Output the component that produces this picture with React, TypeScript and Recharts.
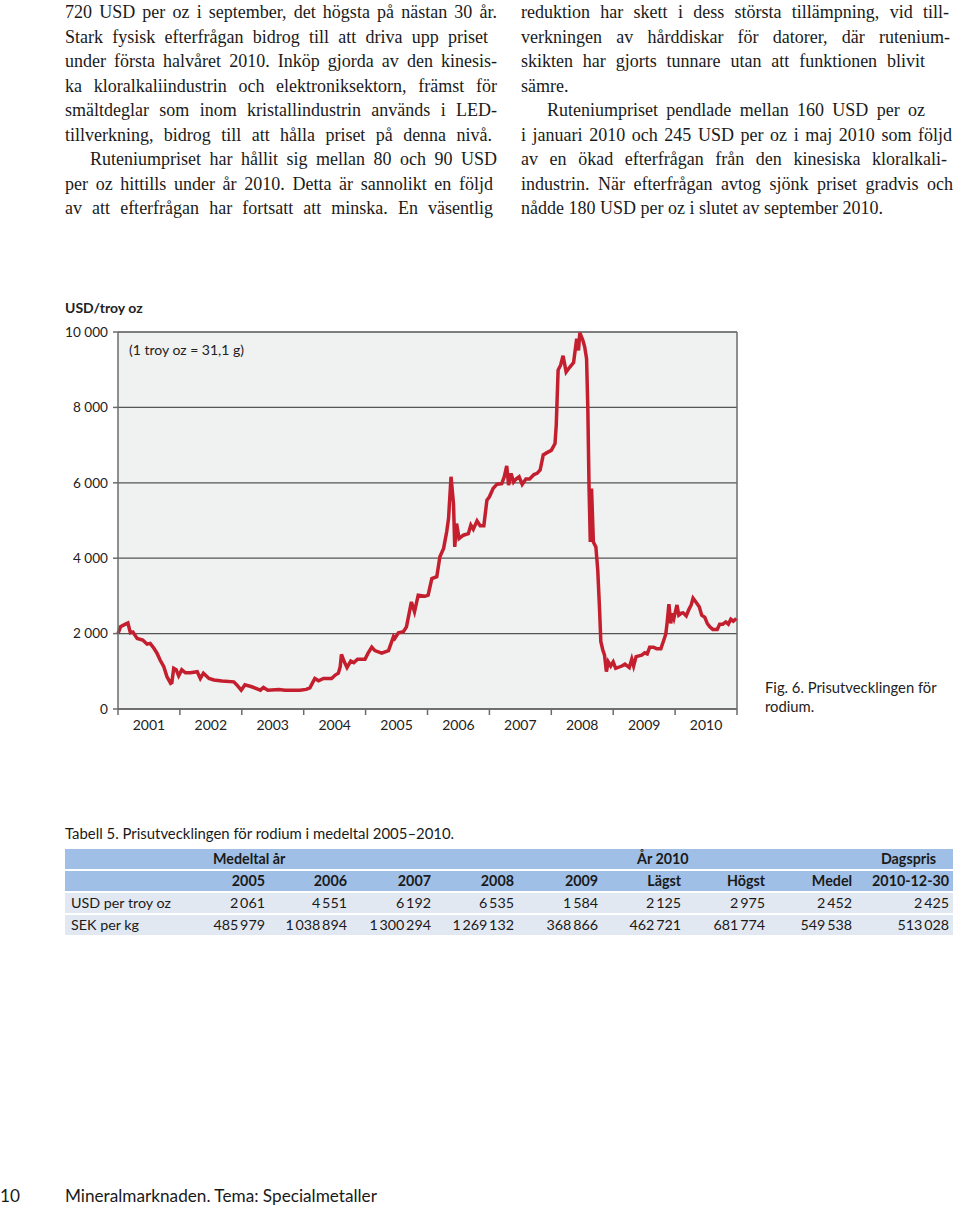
import React from 'react';
import { LineChart, Line, XAxis, YAxis, CartesianGrid, ReferenceLine } from 'recharts';

// Rhodium price, USD per troy oz (fractional years)
const times = [
  2001.0, 2001.04, 2001.12, 2001.16, 2001.2, 2001.24, 2001.31, 2001.4, 2001.47, 2001.52,
  2001.58, 2001.63, 2001.68, 2001.74, 2001.79, 2001.85, 2001.87, 2001.9, 2001.94, 2001.98,
  2002.03, 2002.09, 2002.17, 2002.28, 2002.33, 2002.38, 2002.47, 2002.55, 2002.68, 2002.87,
  2002.92, 2002.99, 2003.05, 2003.16, 2003.3, 2003.35, 2003.42, 2003.6, 2003.7, 2003.94,
  2004.04, 2004.1, 2004.18, 2004.24, 2004.32, 2004.45, 2004.51, 2004.56, 2004.59, 2004.61,
  2004.65, 2004.7, 2004.76, 2004.81, 2004.87, 2004.99, 2005.04, 2005.1, 2005.15, 2005.26,
  2005.37, 2005.45, 2005.47, 2005.53, 2005.61, 2005.66, 2005.74, 2005.79, 2005.85, 2005.96,
  2006.01, 2006.07, 2006.15, 2006.2, 2006.26, 2006.31, 2006.34, 2006.38, 2006.42, 2006.44,
  2006.47, 2006.51, 2006.58, 2006.66, 2006.7, 2006.74, 2006.8, 2006.85, 2006.91, 2006.96,
  2007.0, 2007.06, 2007.12, 2007.2, 2007.24, 2007.28, 2007.31, 2007.35, 2007.39, 2007.43,
  2007.48, 2007.53, 2007.59, 2007.65, 2007.72, 2007.77, 2007.82, 2007.87, 2007.93, 2008.0,
  2008.06, 2008.08, 2008.11, 2008.15, 2008.19, 2008.24, 2008.3, 2008.36, 2008.41, 2008.44,
  2008.46, 2008.51, 2008.54, 2008.57, 2008.59, 2008.61, 2008.63, 2008.65, 2008.68, 2008.72,
  2008.75, 2008.78, 2008.8, 2008.83, 2008.86, 2008.89, 2008.92, 2008.96, 2009.0, 2009.04,
  2009.14, 2009.19, 2009.26, 2009.3, 2009.33, 2009.37, 2009.46, 2009.51, 2009.55, 2009.59,
  2009.65, 2009.7, 2009.77, 2009.81, 2009.85, 2009.87, 2009.9, 2009.93, 2009.95, 2009.98,
  2010.03, 2010.06, 2010.1, 2010.13, 2010.18, 2010.22, 2010.26, 2010.29, 2010.33, 2010.39,
  2010.43, 2010.48, 2010.52, 2010.56, 2010.61, 2010.68, 2010.72, 2010.77, 2010.82, 2010.86,
  2010.9, 2010.94, 2010.99,
];
const prices = [
  2000, 2180, 2250, 2280, 2020, 2040, 1870, 1830, 1720, 1740,
  1610, 1480, 1300, 1120, 860, 680, 700, 1080, 1040, 880,
  1040, 960, 960, 990, 810, 950, 810, 770, 740, 720,
  640, 500, 640, 590, 500, 570, 500, 520, 500, 500,
  520, 560, 810, 750, 810, 810, 900, 950, 1120, 1450,
  1270, 1100, 1270, 1230, 1320, 1320, 1480, 1640, 1550, 1480,
  1550, 1920, 1870, 2020, 2050, 2180, 2840, 2580, 3020, 2990,
  3020, 3460, 3510, 4040, 4260, 4700, 5050, 6160, 5450, 4300,
  4920, 4520, 4610, 4650, 4880, 4770, 4990, 4860, 4860, 5540,
  5630, 5850, 5960, 5980, 6160, 6450, 5940, 6250, 6020, 6100,
  6160, 5960, 6100, 6100, 6220, 6250, 6340, 6740, 6800, 6860,
  7040, 7530, 8990, 9120, 9370, 8940, 9070, 9190, 9820, 9510,
  9980, 9780, 9600, 9290, 7970, 5850, 4430, 5850, 4430, 4300,
  3700, 2630, 1790, 1580, 1430, 990, 1250, 1140, 1250, 1080,
  1140, 1190, 1100, 1320, 1140, 1390, 1430, 1490, 1460, 1640,
  1640, 1600, 1600, 1790, 1990, 2270, 2780, 2270, 2540, 2400,
  2760, 2490, 2540, 2550, 2470, 2630, 2760, 2940, 2850, 2710,
  2490, 2430, 2270, 2180, 2110, 2110, 2250, 2250, 2310, 2250,
  2380, 2330, 2400,
];
const yearTicks = [2001, 2002, 2003, 2004, 2005, 2006, 2007, 2008, 2009, 2010, 2011];
const priceTicks = [0, 2000, 4000, 6000, 8000, 10000];

// Table 5
const avgYears = ['2005', '2006', '2007', '2008', '2009'];
const year2010Cols = ['Lägst', 'Högst', 'Medel'];
const dayCol = '2010-12-30';
const usdRow = [2061, 4551, 6192, 6535, 1584, 2125, 2975, 2452, 2425];
const sekRow = [485979, 1038894, 1300294, 1269132, 368866, 462721, 681774, 549538, 513028];

// Body text, line by line as printed
const leftLines = [
  '720 USD per oz i september, det högsta på nästan 30 år.',
  'Stark fysisk efterfrågan bidrog till att driva upp priset',
  'under första halvåret 2010. Inköp gjorda av den kinesis-',
  'ka kloralkaliindustrin och elektroniksektorn, främst för',
  'smältdeglar som inom kristallindustrin används i LED-',
  'tillverkning, bidrog till att hålla priset på denna nivå.',
  'Ruteniumpriset har hållit sig mellan 80 och 90 USD',
  'per oz hittills under år 2010. Detta är sannolikt en följd',
  'av att efterfrågan har fortsatt att minska. En väsentlig',
];
const leftEnds = [497, 488, 497, 497, 497, 492, 497, 493, 493];
const leftIndent = [0, 0, 0, 0, 0, 0, 25, 0, 0];

const rightLines = [
  'reduktion har skett i dess största tillämpning, vid till-',
  'verkningen av hårddiskar för datorer, där rutenium-',
  'skikten har gjorts tunnare utan att funktionen blivit',
  'sämre.',
  'Ruteniumpriset pendlade mellan 160 USD per oz',
  'i januari 2010 och 245 USD per oz i maj 2010 som följd',
  'av en ökad efterfrågan från den kinesiska kloralkali-',
  'industrin. När efterfrågan avtog sjönk priset gradvis och',
  'nådde 180 USD per oz i slutet av september 2010.',
];
const rightEnds = [949, 950, 925, 0, 925, 952, 947, 953, 0];
const rightIndent = [0, 0, 0, 0, 26, 0, 0, 0, 0];

const chartData = times.map((t, i) => ({ t, usd: prices[i] }));

const SANS = 'Lato, "Open Sans", sans-serif';
const SERIF = '"Liberation Serif", serif';
const AXIS = '#6b6b6b';
const LINE_RED = '#c41f2e';
const HEAD_BLUE = '#a0bfe6';
const ROW_BLUE = '#e2e8f2';

const spaced = (n: number, sep: string) => String(n).replace(/\B(?=(\d{3})+(?!\d))/g, sep);

const YearTick = (props: any) => {
  const { x, y, payload, width } = props;
  const half = (typeof width === 'number' && width > 0 ? width : 619) / (yearTicks.length - 1) / 2;
  if (payload.value >= 2011) return null;
  return (
    <text x={x + half} y={y} dy="0.71em" textAnchor="middle" fill="#222" fontSize={14} fontFamily={SANS}>
      {payload.value}
    </text>
  );
};

const TextColumn = ({ lines, ends, indents, left }: { lines: string[]; ends: number[]; indents: number[]; left: number }) => (
  <div style={{ position: 'absolute', left, top: 0, fontFamily: SERIF, fontSize: 18, color: '#1a1a1a' }}>
    {lines.map((ln, i) => {
      const just = ends[i] > 0;
      return (
        <div
          key={i}
          style={{
            height: 24.5,
            lineHeight: '24.5px',
            whiteSpace: just ? 'normal' : 'nowrap',
            paddingLeft: indents[i],
            width: just ? ends[i] - left - indents[i] : undefined,
            textAlign: just ? 'justify' : 'left',
            textAlignLast: just ? 'justify' : 'left',
          }}
        >
          {ln}
        </div>
      );
    })}
  </div>
);

const cell: React.CSSProperties = { padding: '0 4px 0 0', textAlign: 'right', height: 20, lineHeight: '20px' };

const PriceTable = () => (
  <table
    style={{
      position: 'absolute',
      left: 65,
      top: 847,
      width: 888,
      borderCollapse: 'separate',
      borderSpacing: '0 2px',
      fontFamily: SANS,
      fontSize: 14.3,
      color: '#1a1a1a',
      tableLayout: 'fixed',
    }}
  >
    <colgroup>
      <col style={{ width: 120 }} />
      <col style={{ width: 84 }} />
      <col style={{ width: 82 }} />
      <col style={{ width: 84 }} />
      <col style={{ width: 83 }} />
      <col style={{ width: 84 }} />
      <col style={{ width: 83 }} />
      <col style={{ width: 84 }} />
      <col style={{ width: 87 }} />
      <col style={{ width: 97 }} />
    </colgroup>
    <tbody>
      <tr style={{ background: HEAD_BLUE, fontWeight: 700 }}>
        <td style={cell}></td>
        <td colSpan={5} style={{ ...cell, textAlign: 'left', paddingLeft: 28 }}>Medeltal år</td>
        <td colSpan={3} style={{ ...cell, textAlign: 'left', paddingLeft: 35 }}>År 2010</td>
        <td style={{ ...cell, paddingRight: 17 }}>Dagspris</td>
      </tr>
      <tr style={{ background: HEAD_BLUE, fontWeight: 700 }}>
        <td style={cell}></td>
        {[...avgYears, ...year2010Cols, dayCol].map((h) => (
          <td key={h} style={cell}>{h}</td>
        ))}
      </tr>
      <tr style={{ background: ROW_BLUE }}>
        <td style={{ ...cell, textAlign: 'left', paddingLeft: 6 }}>USD per troy oz</td>
        {usdRow.map((v, i) => (
          <td key={i} style={cell}>{spaced(v, '\u2009')}</td>
        ))}
      </tr>
      <tr style={{ background: ROW_BLUE }}>
        <td style={{ ...cell, textAlign: 'left', paddingLeft: 6 }}>SEK per kg</td>
        {sekRow.map((v, i) => (
          <td key={i} style={cell}>{spaced(v, '\u2009')}</td>
        ))}
      </tr>
    </tbody>
  </table>
);

export default function App() {
  return (
    <div style={{ position: 'absolute', left: 0, top: 0, width: 960, height: 1208, background: '#fff', overflow: 'hidden' }}>
      <TextColumn lines={leftLines} ends={leftEnds} indents={leftIndent} left={65} />
      <TextColumn lines={rightLines} ends={rightEnds} indents={rightIndent} left={521} />

      <div style={{ position: 'absolute', left: 65, top: 299, fontFamily: SANS, fontSize: 14, fontWeight: 700, color: '#222' }}>
        USD/troy oz
      </div>

      <div style={{ position: 'absolute', left: 60, top: 290 }}>
        <LineChart width={700} height={460} data={chartData} margin={{ top: 42, right: 23, bottom: 0, left: 0 }}>
          <CartesianGrid vertical={false} stroke="#555" strokeWidth={1.3} fill="#f0f1f1" fillOpacity={1} />
          <XAxis
            dataKey="t"
            type="number"
            domain={[2001, 2011]}
            ticks={yearTicks}
            interval={0}
            height={41}
            axisLine={{ stroke: AXIS, strokeWidth: 1.5 }}
            tickLine={{ stroke: AXIS, strokeWidth: 1.5 }}
            tickSize={6}
            tickMargin={5}
            tick={<YearTick />}
          />
          <YAxis
            type="number"
            domain={[0, 10000]}
            ticks={priceTicks}
            interval={0}
            width={58}
            axisLine={{ stroke: AXIS, strokeWidth: 1.5 }}
            tickLine={{ stroke: AXIS, strokeWidth: 1.5 }}
            tickSize={5}
            tickMargin={5}
            tickFormatter={(v: number) => spaced(v, ' ')}
            tick={{ fill: '#222', fontSize: 13.6, fontFamily: SANS }}
          />
          <ReferenceLine x={2011} stroke={AXIS} strokeWidth={1.5} />
          <Line
            type="linear"
            dataKey="usd"
            stroke={LINE_RED}
            strokeWidth={3.5}
            dot={false}
            activeDot={false}
            isAnimationActive={false}
          />
        </LineChart>
      </div>

      <div style={{ position: 'absolute', left: 129, top: 341, fontFamily: SANS, fontSize: 14, color: '#222' }}>
        (1 troy oz = 31,1 g)
      </div>

      <div style={{ position: 'absolute', left: 765, top: 678, fontFamily: SANS, fontSize: 14.8, lineHeight: '19px', color: '#222' }}>
        Fig. 6. Prisutvecklingen för
        <br />
        rodium.
      </div>

      <div style={{ position: 'absolute', left: 65, top: 824, fontFamily: SANS, fontSize: 14.9, color: '#1a1a1a' }}>
        Tabell 5. Prisutvecklingen för rodium i medeltal 2005–2010.
      </div>
      <PriceTable />

      <div style={{ position: 'absolute', left: 0, top: 1185, fontFamily: SANS, fontSize: 17.2, color: '#1a1a1a' }}>10</div>
      <div style={{ position: 'absolute', left: 65, top: 1185, fontFamily: SANS, fontSize: 17.2, color: '#1a1a1a' }}>
        Mineralmarknaden. Tema: Specialmetaller
      </div>
    </div>
  );
}
